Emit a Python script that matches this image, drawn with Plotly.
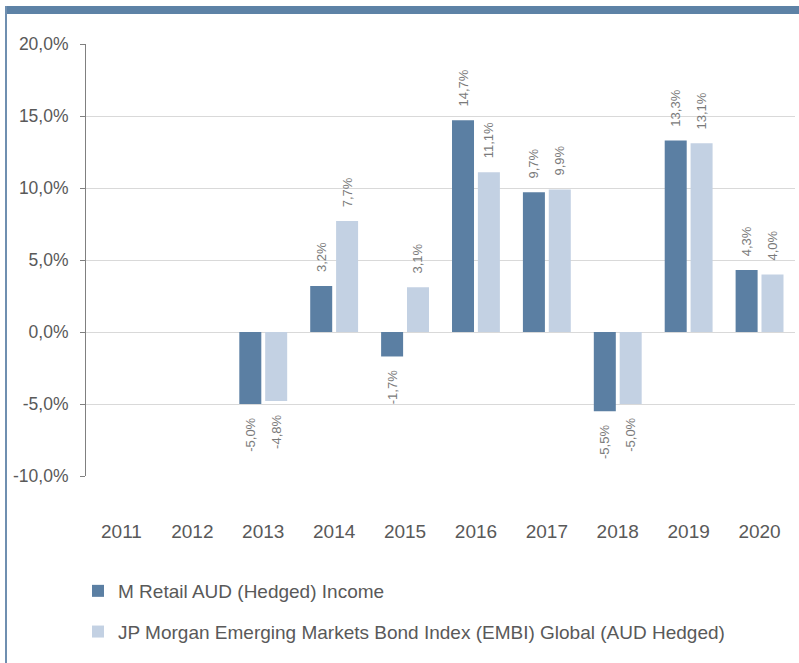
import plotly.graph_objects as go

years = ["2011", "2012", "2013", "2014", "2015", "2016", "2017", "2018", "2019", "2020"]
fund_name = "M Retail AUD (Hedged) Income"
index_name = "JP Morgan Emerging Markets Bond Index (EMBI) Global (AUD Hedged)"
fund_values = [None, None, -5.0, 3.2, -1.7, 14.7, 9.7, -5.5, 13.3, 4.3]
index_values = [None, None, -4.8, 7.7, 3.1, 11.1, 9.9, -5.0, 13.1, 4.0]
y_ticks = [-10, -5, 0, 5, 10, 15, 20]

DARK = "#5b7fa3"
LIGHT = "#c3d1e3"
GRAY_TXT = "#595959"
FONT = "Liberation Sans, Arial, sans-serif"
PAD = "\u00a0" * 3


def fmt(v):
    return f"{v:.1f}".replace(".", ",") + "%"


def labels(vals):
    out = []
    for v in vals:
        if v is None:
            out.append("")
            continue
        s = fmt(v)
        out.append(PAD + s if v >= 0 else s + PAD)
    return out


W, H = 799, 663
ML, MR, MT, MB = 86, 4, 44, 187
PW, PH = W - ML - MR, H - MT - MB


def px_x(p):
    return (p - ML) / PW


def px_y(p):
    return (H - MB - p) / PH


fig = go.Figure()
for name, vals, col, grp in [(fund_name, fund_values, DARK, "a"), (index_name, index_values, LIGHT, "b")]:
    fig.add_trace(go.Bar(
        x=years, y=vals, name=name, marker_color=col, marker_line_width=0,
        text=labels(vals), textposition="outside", textangle=-90,
        constraintext="none", cliponaxis=False, legendgroup=grp,
        textfont=dict(size=13, color="#7a7a7a", family=FONT),
        hoverinfo="x+y",
    ))

fig.update_layout(
    width=W, height=H,
    margin=dict(l=ML, r=MR, t=MT, b=MB, autoexpand=False),
    paper_bgcolor="white", plot_bgcolor="white",
    separators=",.",
    barmode="group", bargap=0.27, bargroupgap=0.15,
    font=dict(family=FONT, color=GRAY_TXT, size=18),
    showlegend=True,
    legend=dict(
        orientation="v", x=px_x(78), xanchor="left", y=px_y(572), yanchor="top",
        font=dict(size=19, color=GRAY_TXT), tracegroupgap=13,
        bgcolor="rgba(0,0,0,0)", itemwidth=30,
    ),
    xaxis=dict(
        type="category", showline=False, ticks="", showgrid=False, zeroline=False,
        tickfont=dict(size=19, color=GRAY_TXT), ticklabelstandoff=42,
    ),
    xaxis2=dict(
        overlaying="x", anchor="free", position=(0 - y_ticks[0]) / (y_ticks[-1] - y_ticks[0]),
        type="linear", range=[-0.5, len(years) - 0.5], tick0=0.5, dtick=1,
        showline=True, linecolor="#808080", linewidth=1,
        ticks="outside", ticklen=5, tickcolor="#808080",
        showticklabels=False, showgrid=False, zeroline=False,
    ),
    yaxis=dict(
        range=[y_ticks[0], y_ticks[-1]], tickmode="array", tickvals=y_ticks,
        ticktext=[fmt(v) for v in y_ticks],
        showline=True, linecolor="#808080", linewidth=1,
        ticks="outside", ticklen=5, tickcolor="#808080",
        showgrid=True, gridcolor="#d9d9d9", gridwidth=1, zeroline=False,
        tickfont=dict(size=17.5, color=GRAY_TXT), ticklabelstandoff=8,
    ),
    shapes=[
        dict(type="rect", xref="paper", yref="paper", x0=px_x(5), x1=px_x(W), y0=px_y(14), y1=px_y(6),
             fillcolor="#5d82a6", line_width=0, layer="above"),
        dict(type="line", xref="paper", yref="paper", x0=px_x(6), x1=px_x(6), y0=px_y(6), y1=px_y(H),
             line=dict(color="#6f8fb0", width=2), layer="above"),
    ],
)

fig.write_html("out.html", config={"displayModeBar": False},
               post_script="document.body.style.margin='0';")
